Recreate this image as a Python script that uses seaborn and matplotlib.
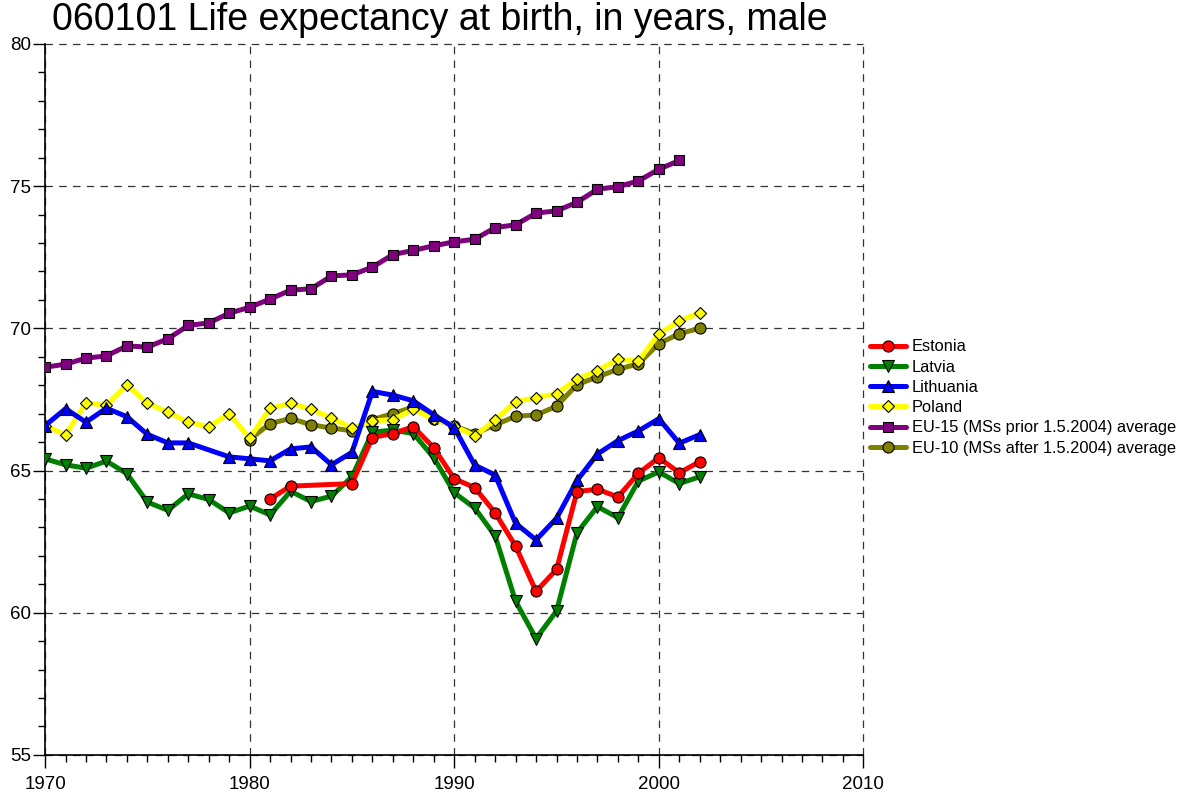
import matplotlib
matplotlib.use("Agg")
import matplotlib.pyplot as plt
from matplotlib import font_manager
from matplotlib.ticker import MultipleLocator
import seaborn as sns
import pandas as pd

# values (missing years simply left out)
years_full = list(range(1970, 2003))

estonia_years = [1981, 1982, 1985, 1986, 1987, 1988, 1989, 1990, 1991, 1992, 1993,
                 1994, 1995, 1996, 1997, 1998, 1999, 2000, 2001, 2002]
estonia = [64.00, 64.45, 64.54, 66.16, 66.30, 66.54, 65.80, 64.71, 64.40, 63.51, 62.34,
           60.75, 61.52, 64.26, 64.34, 64.07, 64.90, 65.45, 64.92, 65.31]

latvia_years = years_full
latvia = [65.41, 65.20, 65.08, 65.33, 64.89, 63.89, 63.60, 64.18, 63.98, 63.51,
          63.75, 63.44, 64.27, 63.91, 64.10, 64.78, 66.35, 66.42, 66.30, 65.45,
          64.22, 63.68, 62.70, 60.40, 59.09, 60.06, 62.81, 63.73, 63.34, 64.63,
          64.95, 64.54, 64.78]

lithuania_years = [y for y in years_full if y != 1978]
lithuania = [66.58, 67.17, 66.70, 67.19, 66.89, 66.27, 65.97, 65.97, 65.48,
             65.41, 65.34, 65.76, 65.83, 65.20, 65.64, 67.78, 67.65, 67.45, 66.96,
             66.51, 65.19, 64.84, 63.14, 62.56, 63.32, 64.65, 65.58, 66.05, 66.39,
             66.82, 65.96, 66.26]

poland_years = years_full
poland = [66.58, 66.25, 67.38, 67.29, 68.02, 67.36, 67.05, 66.70, 66.54, 67.00,
          66.13, 67.19, 67.36, 67.15, 66.85, 66.49, 66.74, 66.79, 67.15, 66.80,
          66.57, 66.21, 66.78, 67.42, 67.56, 67.70, 68.21, 68.51, 68.91, 68.85,
          69.80, 70.26, 70.55]

eu15_years = list(range(1970, 2002))
eu15 = [68.63, 68.74, 68.95, 69.03, 69.38, 69.34, 69.63, 70.10, 70.19, 70.53,
        70.74, 71.03, 71.34, 71.39, 71.84, 71.88, 72.15, 72.59, 72.74, 72.90,
        73.04, 73.13, 73.54, 73.64, 74.05, 74.13, 74.43, 74.89, 74.98, 75.18,
        75.59, 75.90]

eu10_years = list(range(1980, 2003))
eu10 = [66.09, 66.65, 66.83, 66.61, 66.49, 66.40, 66.79, 67.00, 67.23, 66.82,
        66.57, 66.30, 66.60, 66.91, 66.95, 67.26, 68.02, 68.29, 68.56, 68.75,
        69.46, 69.81, 70.00]

series_names = ["Estonia", "Latvia", "Lithuania", "Poland",
                "EU-15 (MSs prior 1.5.2004) average",
                "EU-10 (MSs after 1.5.2004) average"]
series_years = [estonia_years, latvia_years, lithuania_years, poland_years, eu15_years, eu10_years]
series_values = [estonia, latvia, lithuania, poland, eu15, eu10]
colors = ["#FF0000", "#008000", "#0000FF", "#FFFF00", "#800080", "#808000"]
markers = ["o", "v", "^", "D", "s", "o"]
marker_sizes = [8, 8, 8, 6, 7.5, 8]

frames = []
for name, yrs, vals in zip(series_names, series_years, series_values):
    frames.append(pd.DataFrame({"year": yrs, "value": vals, "series": name}))
df = pd.concat(frames, ignore_index=True)

sns.set_style("white", {"text.color": "black", "xtick.color": "black",
                        "ytick.color": "black", "axes.labelcolor": "black"})
installed = {f.name for f in font_manager.fontManager.ttflist}
fam = "Liberation Sans Narrow" if "Liberation Sans Narrow" in installed else "Liberation Sans"
plt.rcParams["font.family"] = [fam, "DejaVu Sans"]

fig = plt.figure(figsize=(11.86, 7.98), dpi=100)
ax = fig.add_axes([0.038, 0.054, 0.690, 0.891])

n = len(series_names)
for i, name in enumerate(series_names):
    sub = df[df["series"] == name]
    sns.lineplot(data=sub, x="year", y="value", ax=ax, color=colors[i], lw=3.6,
                 marker=markers[i], markersize=marker_sizes[i], markeredgecolor="black",
                 markeredgewidth=0.8, label=name, zorder=10 + n - i, sort=True)

ax.set_xlim(1970, 2010)
ax.set_ylim(55, 80)
ax.xaxis.set_major_locator(MultipleLocator(10))
ax.xaxis.set_minor_locator(MultipleLocator(1))
ax.yaxis.set_major_locator(MultipleLocator(5))
ax.yaxis.set_minor_locator(MultipleLocator(1))
ax.grid(True, which="major", linestyle=(0, (6, 5)), color="#333333", lw=0.9)
ax.set_axisbelow(True)
for gl in ax.get_xgridlines() + ax.get_ygridlines():
    gl.set_clip_on(False)
ax.tick_params(axis="both", which="major", direction="out", length=9, width=1,
               labelsize=13.5, color="black", labelcolor="black", left=True, bottom=True)
ax.tick_params(axis="both", which="minor", direction="out", length=5, width=1,
               color="black", left=True, bottom=True)
ax.tick_params(axis="y", pad=1)
ax.tick_params(axis="x", pad=6)
for s in ["top", "right"]:
    ax.spines[s].set_visible(False)
for s in ["left", "bottom"]:
    ax.spines[s].set_color("black")
    ax.spines[s].set_linewidth(1.2)
ax.set_xlabel("")
ax.set_ylabel("")

fig.text(0.371, 0.975, "060101 Life expectancy at birth, in years, male",
         ha="center", va="center", fontsize=27, color="black")

ax.legend(loc="upper left", bbox_to_anchor=(0.728, 0.583), bbox_transform=fig.transFigure,
          frameon=False, fontsize=11.8, handlelength=2.2, handletextpad=0.35,
          labelspacing=0.32, borderaxespad=0)

fig.savefig("out.png", dpi=100)
